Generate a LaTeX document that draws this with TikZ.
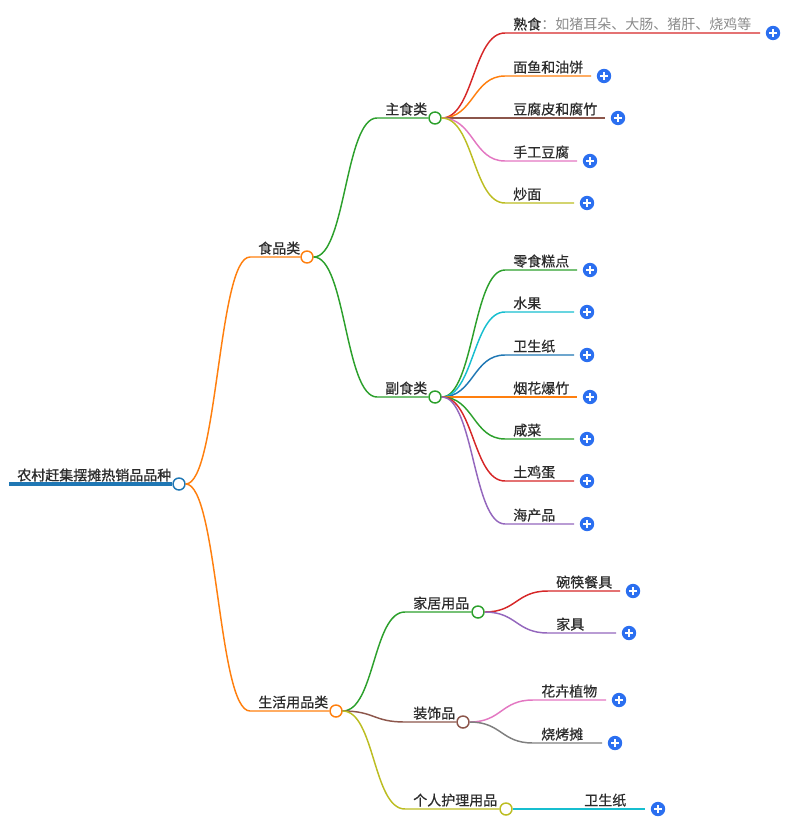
\documentclass[tikz,border=0pt]{standalone}
\usepackage{fontspec}
\setmainfont{Noto Sans CJK SC}[FakeBold=0.5]
\definecolor{tabblue}{HTML}{1F77B4}
\definecolor{taborange}{HTML}{FF7F0E}
\definecolor{tabgreen}{HTML}{2CA02C}
\definecolor{tabred}{HTML}{D62728}
\definecolor{tabpurple}{HTML}{9467BD}
\definecolor{tabbrown}{HTML}{8C564B}
\definecolor{tabpink}{HTML}{E377C2}
\definecolor{tabgray}{HTML}{7F7F7F}
\definecolor{tabolive}{HTML}{BCBD22}
\definecolor{tabcyan}{HTML}{17BECF}
\definecolor{plusblue}{HTML}{2B6FF0}
\definecolor{textdark}{HTML}{2B2B2B}
\definecolor{textlight}{HTML}{8A8A8A}
\begin{document}
\begin{tikzpicture}[x=0.75pt,y=-0.75pt]
% Definição de estilos
\tikzset{
  rotulo/.style={anchor=south west, inner xsep=6pt, inner ysep=1.6pt, text=textdark, font=\fontsize{10.5}{12}\selectfont},
  ramo/.style={line width=1.1pt},
  bola/.style={circle, draw, fill=white, line width=1.1pt, minimum size=9pt, inner sep=0pt},
  mais/.style={circle, fill=plusblue, minimum size=10.8pt, inner sep=0pt,
    path picture={\draw[white, line width=1.3pt] (path picture bounding box.center) ++(-3pt,0) -- ++(6pt,0)
      (path picture bounding box.center) ++(0,-3pt) -- ++(0,6pt);}},
  curva/.style={to path={.. controls +(32,0) and +(-32,0) .. (\tikztotarget)}}
}
\useasboundingbox (0,0) rectangle (808,827);

% Raiz
\node[rotulo, font=\fontsize{10.5}{12}\selectfont] (raiz_txt) at (9,484) {\addfontfeatures{FakeBold=1}农村赶集摆摊热销品品种};
\node[bola, draw=tabblue] (raiz) at (179,484) {};
\draw[line width=2.3pt, tabblue] (raiz_txt.south west) -- (raiz.west);

% Primeiro nivel
\node[rotulo] (comida_txt) at (250,257) {食品类};
\node[bola, draw=taborange] (comida) at (307,257) {};
\node[rotulo] (vida_txt) at (250,711) {生活用品类};
\node[bola, draw=taborange] (vida) at (336,711) {};

\draw[ramo, taborange] (raiz.east) to[curva] (comida_txt.south west) -- (comida.west);
\draw[ramo, taborange] (raiz.east) to[curva] (vida_txt.south west) -- (vida.west);

% Segundo nivel - comida
\node[rotulo] (zhushi_txt) at (377,118) {主食类};
\node[bola, draw=tabgreen] (zhushi) at (435,118) {};
\node[rotulo] (fushi_txt) at (377,397) {副食类};
\node[bola, draw=tabgreen] (fushi) at (435,397) {};

\draw[ramo, tabgreen] (comida.east) to[curva] (zhushi_txt.south west) -- (zhushi.west);
\draw[ramo, tabgreen] (comida.east) to[curva] (fushi_txt.south west) -- (fushi.west);

% Segundo nivel - vida
\node[rotulo] (jiaju_txt) at (405,612) {家居用品};
\node[bola, draw=tabgreen] (jiaju) at (478,612) {};
\node[rotulo] (zhuangshi_txt) at (405,722) {装饰品};
\node[bola, draw=tabbrown] (zhuangshi) at (463,722) {};
\node[rotulo] (huli_txt) at (405,809) {个人护理用品};
\node[bola, draw=tabolive] (huli) at (506,809) {};

\draw[ramo, tabgreen] (vida.east) to[curva] (jiaju_txt.south west) -- (jiaju.west);
\draw[ramo, tabbrown] (vida.east) to[curva] (zhuangshi_txt.south west) -- (zhuangshi.west);
\draw[ramo, tabolive] (vida.east) to[curva] (huli_txt.south west) -- (huli.west);

% Folhas - 主食类
\node[rotulo] (shushi_txt) at (505,33) {熟食\textcolor{textlight}{\addfontfeatures{FakeBold=0}：如猪耳朵、大肠、猪肝、烧鸡等}};
\node[mais] (shushi) at (773,33) {};
\node[rotulo] (mianyu_txt) at (505,76) {面鱼和油饼};
\node[mais] (mianyu) at (604,76) {};
\node[rotulo] (fupi_txt) at (505,118) {豆腐皮和腐竹};
\node[mais] (fupi) at (618,118) {};
\node[rotulo] (doufu_txt) at (505,161) {手工豆腐};
\node[mais] (doufu) at (590,161) {};
\node[rotulo] (chaomian_txt) at (505,203) {炒面};
\node[mais] (chaomian) at (587,203) {};

\draw[ramo, tabred] (zhushi.east) to[curva] (shushi_txt.south west) -- ([xshift=-4pt]shushi.west);
\draw[ramo, taborange] (zhushi.east) to[curva] (mianyu_txt.south west) -- ([xshift=-4pt]mianyu.west);
\draw[ramo, tabbrown] (zhushi.east) to[curva] (fupi_txt.south west) -- ([xshift=-4pt]fupi.west);
\draw[ramo, tabpink] (zhushi.east) to[curva] (doufu_txt.south west) -- ([xshift=-4pt]doufu.west);
\draw[ramo, tabolive] (zhushi.east) to[curva] (chaomian_txt.south west) -- ([xshift=-4pt]chaomian.west);

% Folhas - 副食类
\node[rotulo] (lingshi_txt) at (505,270) {零食糕点};
\node[mais] (lingshi) at (590,270) {};
\node[rotulo] (shuiguo_txt) at (505,312) {水果};
\node[mais] (shuiguo) at (587,312) {};
\node[rotulo] (zhi_txt) at (505,355) {卫生纸};
\node[mais] (zhi) at (587,355) {};
\node[rotulo] (yanhua_txt) at (505,397) {烟花爆竹};
\node[mais] (yanhua) at (590,397) {};
\node[rotulo] (xiancai_txt) at (505,439) {咸菜};
\node[mais] (xiancai) at (587,439) {};
\node[rotulo] (jidan_txt) at (505,481) {土鸡蛋};
\node[mais] (jidan) at (587,481) {};
\node[rotulo] (haichan_txt) at (505,524) {海产品};
\node[mais] (haichan) at (587,524) {};

\draw[ramo, tabgreen] (fushi.east) to[curva] (lingshi_txt.south west) -- ([xshift=-4pt]lingshi.west);
\draw[ramo, tabcyan] (fushi.east) to[curva] (shuiguo_txt.south west) -- ([xshift=-4pt]shuiguo.west);
\draw[ramo, tabblue] (fushi.east) to[curva] (zhi_txt.south west) -- ([xshift=-4pt]zhi.west);
\draw[ramo, taborange] (fushi.east) to[curva] (yanhua_txt.south west) -- ([xshift=-4pt]yanhua.west);
\draw[ramo, tabgreen] (fushi.east) to[curva] (xiancai_txt.south west) -- ([xshift=-4pt]xiancai.west);
\draw[ramo, tabred] (fushi.east) to[curva] (jidan_txt.south west) -- ([xshift=-4pt]jidan.west);
\draw[ramo, tabpurple] (fushi.east) to[curva] (haichan_txt.south west) -- ([xshift=-4pt]haichan.west);

% Folhas - vida
\node[rotulo] (wankuai_txt) at (548,591) {碗筷餐具};
\node[mais] (wankuai) at (633,591) {};
\node[rotulo] (jiaju2_txt) at (548,633) {家具};
\node[mais] (jiaju2) at (629,633) {};
\node[rotulo] (huahui_txt) at (533,700) {花卉植物};
\node[mais] (huahui) at (619,700) {};
\node[rotulo] (shaokao_txt) at (533,743) {烧烤摊};
\node[mais] (shaokao) at (615,743) {};
\node[rotulo] (zhi2_txt) at (576,809) {卫生纸};
\node[mais] (zhi2) at (658,809) {};

\draw[ramo, tabred] (jiaju.east) to[curva] (wankuai_txt.south west) -- ([xshift=-4pt]wankuai.west);
\draw[ramo, tabpurple] (jiaju.east) to[curva] (jiaju2_txt.south west) -- ([xshift=-4pt]jiaju2.west);
\draw[ramo, tabpink] (zhuangshi.east) to[curva] (huahui_txt.south west) -- ([xshift=-4pt]huahui.west);
\draw[ramo, tabgray] (zhuangshi.east) to[curva] (shaokao_txt.south west) -- ([xshift=-4pt]shaokao.west);
\draw[ramo, tabcyan] (huli.east) to[curva] (zhi2_txt.south west) -- ([xshift=-4pt]zhi2.west);

\end{tikzpicture}
\end{document}
